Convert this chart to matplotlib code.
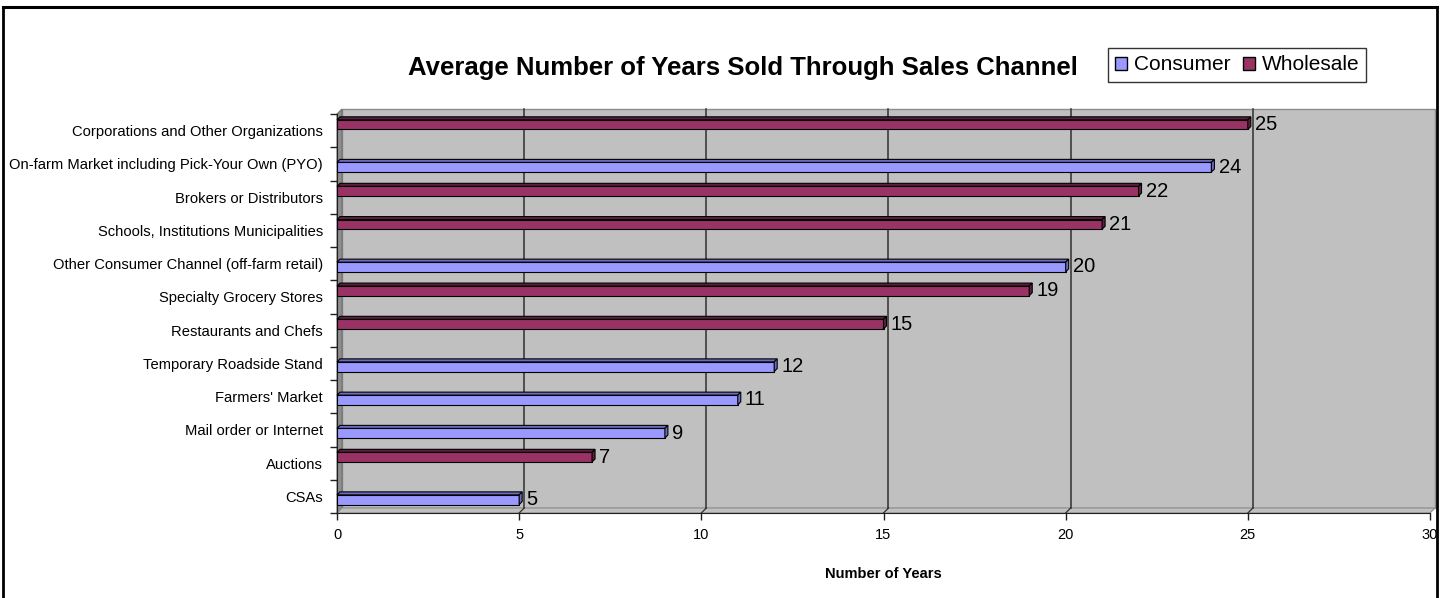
import matplotlib
matplotlib.use("Agg")
import matplotlib.pyplot as plt
from matplotlib.patches import Polygon, Rectangle, Patch
from matplotlib.lines import Line2D

plt.rcParams["font.family"] = ["Liberation Sans", "DejaVu Sans"]

channels = [
    "Corporations and Other Organizations",
    "On-farm Market including Pick-Your Own (PYO)",
    "Brokers or Distributors",
    "Schools, Institutions Municipalities",
    "Other Consumer Channel (off-farm retail)",
    "Specialty Grocery Stores",
    "Restaurants and Chefs",
    "Temporary Roadside Stand",
    "Farmers' Market",
    "Mail order or Internet",
    "Auctions",
    "CSAs",
]
years = [25, 24, 22, 21, 20, 19, 15, 12, 11, 9, 7, 5]
channel_type = ["Wholesale", "Consumer", "Wholesale", "Wholesale", "Consumer", "Wholesale",
                "Wholesale", "Consumer", "Consumer", "Consumer", "Wholesale", "Consumer"]
x_ticks = [0, 5, 10, 15, 20, 25, 30]

FRONT = {"Consumer": "#9999FF", "Wholesale": "#993366"}
SHADE = {"Consumer": "#6B6BC0", "Wholesale": "#5E1F3F"}
SLOT = {"Consumer": 0.1, "Wholesale": -0.18}
WALL = "#C0C0C0"

W, H = 1440, 598
fig = plt.figure(figsize=(W / 100, H / 100), dpi=100)
left, right, bottom, top = 337, 1430, 513, 114
ax = fig.add_axes([left / W, 1 - bottom / H, (right - left) / W, (bottom - top) / H])
n = len(channels)
xmax = 30
ax.set_xlim(0, xmax)
ax.set_ylim(n - 0.5, -0.5)
ax.set_facecolor("none")

# pixel -> data scale for the fake 3D depth
px_x = xmax / (right - left)
px_y = n / (bottom - top)
wdx, wdy = 5 * px_x, 5 * px_y      # wall depth
bdx, bdy = 3 * px_x, 3 * px_y      # bar depth
y0, y1 = -0.5, n - 0.5

# back wall, side wall and floor
ax.add_patch(Rectangle((wdx, y0 - wdy), xmax, n, facecolor=WALL, edgecolor="#8C8C8C",
                       lw=1, zorder=0, clip_on=False))
ax.add_patch(Polygon([(0, y0), (wdx, y0 - wdy), (wdx, y1 - wdy), (0, y1)],
                     facecolor="#8E8E8E", edgecolor="#707070", lw=0.8, zorder=1, clip_on=False))
ax.add_patch(Polygon([(0, y1), (xmax, y1), (xmax + wdx, y1 - wdy), (wdx, y1 - wdy)],
                     facecolor=WALL, edgecolor="#8C8C8C", lw=0.8, zorder=1, clip_on=False))

# gridlines on the back wall with their floor connectors
for xv in x_ticks[1:-1]:
    ax.plot([xv + wdx, xv + wdx], [y0 - wdy, y1 - wdy], color="#303030", lw=1.1,
            zorder=2, clip_on=False)
    ax.plot([xv, xv + wdx], [y1, y1 - wdy], color="#303030", lw=0.9, zorder=2, clip_on=False)

# bars with top and end faces
bh = 0.29
for i, (v, kind) in enumerate(zip(years, channel_type)):
    c = i + SLOT[kind]
    yt, yb = c - bh / 2, c + bh / 2
    ax.barh(c, v, height=bh, color=FRONT[kind], edgecolor="black", lw=0.8, zorder=4)
    ax.add_patch(Polygon([(0, yt), (v, yt), (v + bdx, yt - bdy), (bdx, yt - bdy)],
                         facecolor=SHADE[kind], edgecolor="black", lw=0.8, zorder=4,
                         clip_on=False))
    ax.add_patch(Polygon([(v, yt), (v + bdx, yt - bdy), (v + bdx, yb - bdy), (v, yb)],
                         facecolor=SHADE[kind], edgecolor="black", lw=0.8, zorder=4,
                         clip_on=False))
    ax.annotate(str(v), (v + bdx, c), xytext=(3, 0), textcoords="offset points",
                va="center", ha="left", fontsize=14.5, zorder=5)

# axes styling
for s in ["top", "right"]:
    ax.spines[s].set_visible(False)
ax.spines["left"].set_color("#202020")
ax.spines["bottom"].set_color("#202020")
ax.spines["left"].set_zorder(3)
ax.spines["bottom"].set_zorder(3)
ax.set_xticks(x_ticks)
ax.set_xticklabels([str(t) for t in x_ticks], fontsize=10.5)
ax.tick_params(axis="x", length=5, width=1, color="#202020", pad=6)
ax.set_yticks(range(n))
ax.set_yticklabels(channels, fontsize=10.6)
ax.tick_params(axis="y", which="major", length=0, pad=10)
ax.set_yticks([i + 0.5 for i in range(-1, n)], minor=True)
ax.tick_params(axis="y", which="minor", length=5, width=1, color="#202020")
ax.set_xlabel("Number of Years", fontsize=10.5, fontweight="bold", labelpad=18)

fig.text(743 / W, 1 - 68 / H, "Average Number of Years Sold Through Sales Channel",
         ha="center", va="center", fontsize=18.5, fontweight="bold")
leg = fig.legend(handles=[Patch(facecolor=FRONT["Consumer"], edgecolor="black", label="Consumer"),
                          Patch(facecolor=FRONT["Wholesale"], edgecolor="black", label="Wholesale")],
                 loc="center", bbox_to_anchor=(1237 / W, 1 - 65 / H), ncol=2, fontsize=15,
                 frameon=True, fancybox=False, edgecolor="black", handlelength=0.6,
                 handleheight=0.6, handletextpad=0.3, columnspacing=0.6, borderpad=0.35)
leg.get_frame().set_linewidth(1)

# outer frame of the chart area
fig.add_artist(Line2D([3 / W, 3 / W], [0, 1 - 7 / H], color="black", lw=2))
fig.add_artist(Line2D([1437 / W, 1437 / W], [0, 1 - 7 / H], color="black", lw=2))
fig.add_artist(Line2D([3 / W, 1437 / W], [1 - 7 / H, 1 - 7 / H], color="black", lw=2.2))

fig.savefig("out.png", dpi=100, facecolor="white")
